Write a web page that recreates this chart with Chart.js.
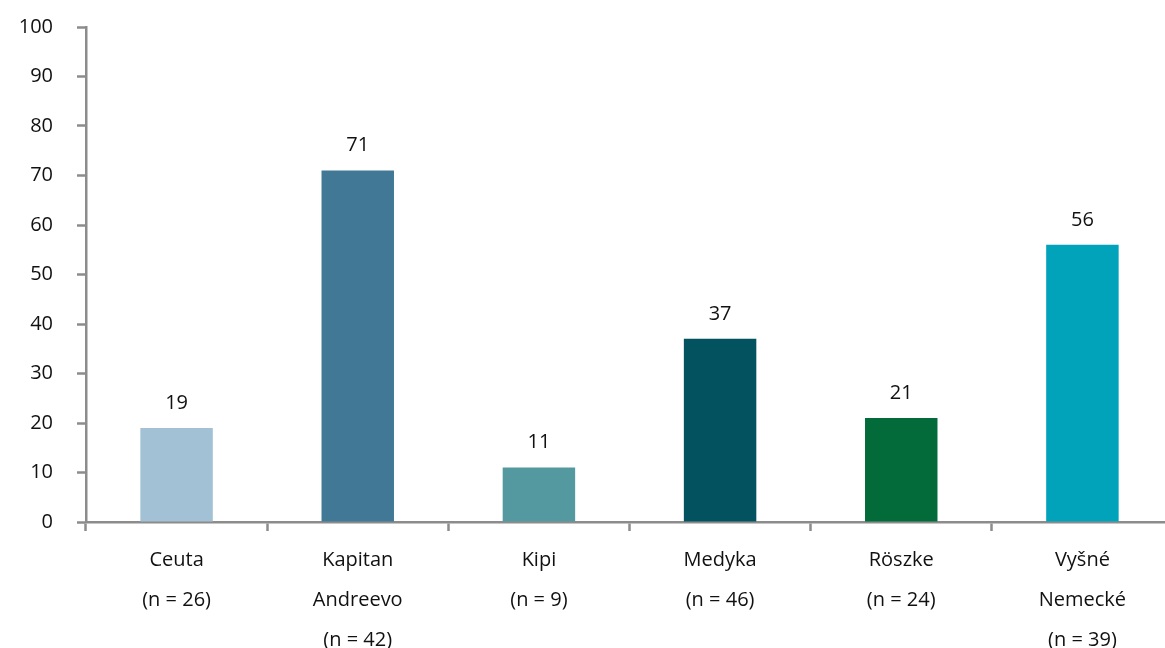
<!DOCTYPE html>
<html>
<head>
<meta charset="utf-8">
<script src="https://cdn.jsdelivr.net/npm/chart.js@4/dist/chart.umd.min.js"></script>
<style>
  html, body { margin: 0; padding: 0; background: #fff; overflow: hidden; }
  #frame { width: 1165px; height: 648px; overflow: hidden; }
  #wrap { width: 1173px; height: 648px; position: relative; }
</style>
</head>
<body>
<div id="frame"><div id="wrap"><canvas id="chart"></canvas></div></div>
<script>
// categories and values
const categories = [
  ['Ceuta', '(n = 26)'],
  ['Kapitan', 'Andreevo', '(n = 42)'],
  ['Kipi', '(n = 9)'],
  ['Medyka', '(n = 46)'],
  ['Röszke', '(n = 24)'],
  ['Vyšné', 'Nemecké', '(n = 39)']
];
const values = [19, 71, 11, 37, 21, 56];
const barColors = ['#A3C1D5', '#417895', '#5599A0', '#02525F', '#036B3A', '#00A3BA'];
const yTicks = [0, 10, 20, 30, 40, 50, 60, 70, 80, 90, 100];

const FONT = '"Open Sans", "Noto Sans", sans-serif';
const AXIS = '#8C8C8C';

// value labels above each bar
const barLabels = {
  id: 'barLabels',
  afterDatasetsDraw(chart) {
    const ctx = chart.ctx;
    const meta = chart.getDatasetMeta(0);
    ctx.save();
    ctx.font = '20px ' + FONT;
    ctx.fillStyle = '#111';
    ctx.textAlign = 'center';
    ctx.textBaseline = 'middle';
    meta.data.forEach(function (bar, i) {
      ctx.fillText(String(values[i]), bar.x, bar.y - 25);
    });
    ctx.restore();
  }
};

new Chart(document.getElementById('chart'), {
  type: 'bar',
  data: {
    labels: categories,
    datasets: [{
      data: values,
      backgroundColor: barColors,
      borderWidth: 0,
      barPercentage: 0.4,
      categoryPercentage: 1.0
    }]
  },
  options: {
    responsive: true,
    maintainAspectRatio: false,
    animation: false,
    layout: { padding: { top: 27, right: 0, left: 0, bottom: 0 } },
    plugins: {
      legend: { display: false },
      tooltip: { enabled: false }
    },
    scales: {
      x: {
        offset: true,
        border: { color: AXIS, width: 2.5 },
        grid: {
          offset: true,
          drawOnChartArea: false,
          drawTicks: true,
          tickLength: 9,
          tickWidth: 2.5,
          tickColor: AXIS
        },
        ticks: {
          color: '#111',
          font: { family: FONT, size: 20, lineHeight: 2 },
          padding: 9,
          maxRotation: 0,
          autoSkip: false
        },
        afterFit(scale) {
          scale.height = 126;
          scale.paddingLeft = 0;
          scale.paddingRight = 0;
        }
      },
      y: {
        min: 0,
        max: 100,
        border: { color: AXIS, width: 2.5 },
        grid: {
          drawOnChartArea: false,
          drawTicks: true,
          tickLength: 9,
          tickWidth: 2.5,
          tickColor: AXIS
        },
        afterBuildTicks(scale) {
          scale.ticks = yTicks.map(function (v) { return { value: v }; });
        },
        ticks: {
          color: '#111',
          font: { family: FONT, size: 20 },
          padding: 24
        },
        afterFit(scale) {
          scale.width = 86;
          scale.paddingTop = 0;
          scale.paddingBottom = 0;
        }
      }
    }
  },
  plugins: [barLabels]
});
</script>
</body>
</html>
